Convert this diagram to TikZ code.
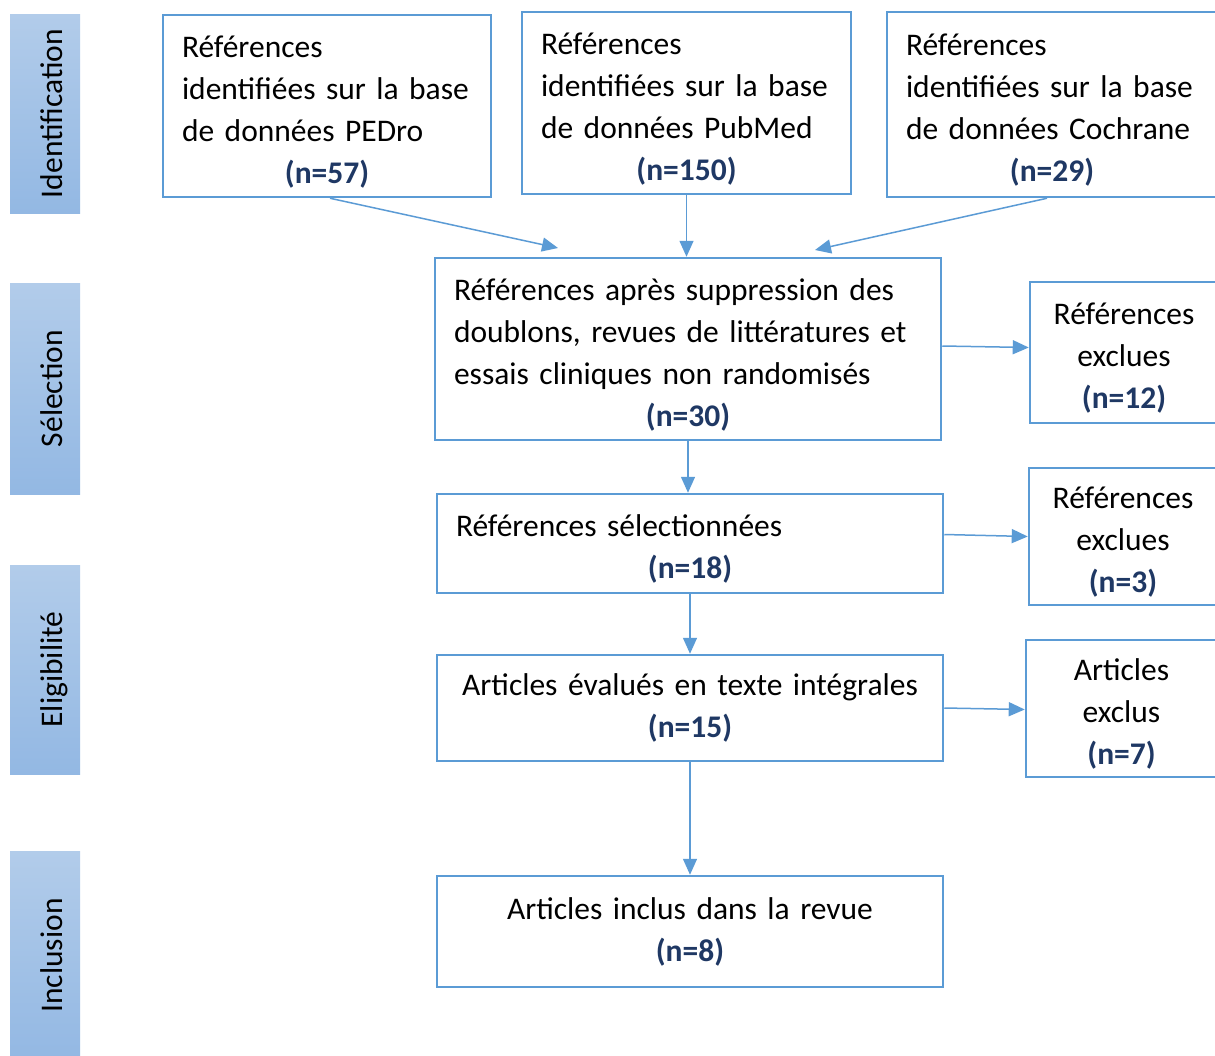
\documentclass[tikz,border=0pt]{standalone}
\usepackage{fontspec}
\setmainfont{Carlito}
\usetikzlibrary{arrows.meta}
\definecolor{boxblue}{HTML}{5B9BD5}
\definecolor{navy}{HTML}{1F3864}
\definecolor{phtop}{HTML}{B2CCEA}
\definecolor{phbot}{HTML}{93B8E3}
\newcommand{\nb}[1]{\makebox[\hsize]{\bfseries\color{navy}(n=#1)}}
\tikzset{
  box/.style={draw=boxblue, line width=2.5pt, inner xsep=19pt, inner ysep=0pt, align=left},
  cbox/.style={box, align=center},
  push/.style={execute at begin node={\rule{0pt}{33pt}}},
  phase/.style={rotate=90, minimum height=70, top color=phtop, bottom color=phbot,
    text height=34pt, text depth=0pt, inner sep=0pt},
  arr/.style={draw=boxblue, line width=1.5pt, -{Triangle[length=16pt,width=14pt]}}
}
\begin{document}
\begin{tikzpicture}[x=1pt, y=-1pt, font=\fontsize{31.5}{42}\selectfont]
  \useasboundingbox[fill=white] (0,0) rectangle (1215,1055);

  \node[phase, minimum width=199] (id)  at (45,113.5) {Identification};
  \node[phase, minimum width=211] (sel) at (45,388.5) {Sélection};
  \node[phase, minimum width=209] (eli) at (45,669.5) {Eligibilité};
  \node[phase, minimum width=209] (inc) at (45,955.5) {Inclusion};

  \node[box, push, minimum width=328, minimum height=182, text width=290] (pedro) at (327,106)
    {Références\\identifiées sur la base\\de données PEDro\\\nb{57}};
  \node[box, push, minimum width=329, minimum height=182, text width=291] (pubmed) at (686.5,103)
    {Références\\identifiées sur la base\\de données PubMed\\\nb{150}};
  \node[box, push, minimum width=330, minimum height=185, text width=292] (cochrane) at (1052,104.5)
    {Références\\identifiées sur la base\\de données Cochrane\\\nb{29}};

  \node[box, push, minimum width=506, minimum height=182, text width=468] (dedup) at (688,349)
    {Références après suppression des\\doublons, revues de littératures et\\essais cliniques non randomisés\\\nb{30}};
  \node[box, push, minimum width=506, minimum height=99, text width=468] (selected) at (690,543.5)
    {Références sélectionnées\\\nb{18}};
  \node[cbox, minimum width=506, minimum height=106, text width=468] (fulltext) at (690,708)
    {Articles évalués en texte intégrales\\\nb{15}};
  \node[cbox, minimum width=506, minimum height=111, text width=468] (included) at (690,931.5)
    {Articles inclus dans la revue\\\nb{8}};

  \node[cbox, push, minimum width=188, minimum height=141, text width=150] (excla) at (1124,352.5)
    {Références\\exclues\\\nb{12}};
  \node[cbox, push, minimum width=188, minimum height=137, text width=150] (exclb) at (1123,536.5)
    {Références\\exclues\\\nb{3}};
  \node[cbox, push, minimum width=191, minimum height=137, text width=153] (exclc) at (1121.5,708.5)
    {Articles\\exclus\\\nb{7}};

  \coordinate (inl) at (558,248);
  \coordinate (inr) at (815,250);
  \draw[arr] (pedro.south) ++(3,0) -- (inl);
  \draw[arr] (pubmed.south) -- (pubmed.south |- dedup.north);
  \draw[arr] (cochrane.south) ++(-5,0) -- (inr);
  \draw[arr] (dedup.south) -- (dedup.south |- selected.north);
  \draw[arr] (selected.south) -- (fulltext.north);
  \draw[arr] (fulltext.south) -- (included.north);
  \draw[arr] ([yshift=3pt]dedup.east) -- ([yshift=5pt]excla.west);
  \draw[arr] ([yshift=9pt]selected.east) -- (exclb.west);
  \draw[arr] (fulltext.east) -- ([yshift=-1pt]exclc.west);
\end{tikzpicture}
\end{document}
